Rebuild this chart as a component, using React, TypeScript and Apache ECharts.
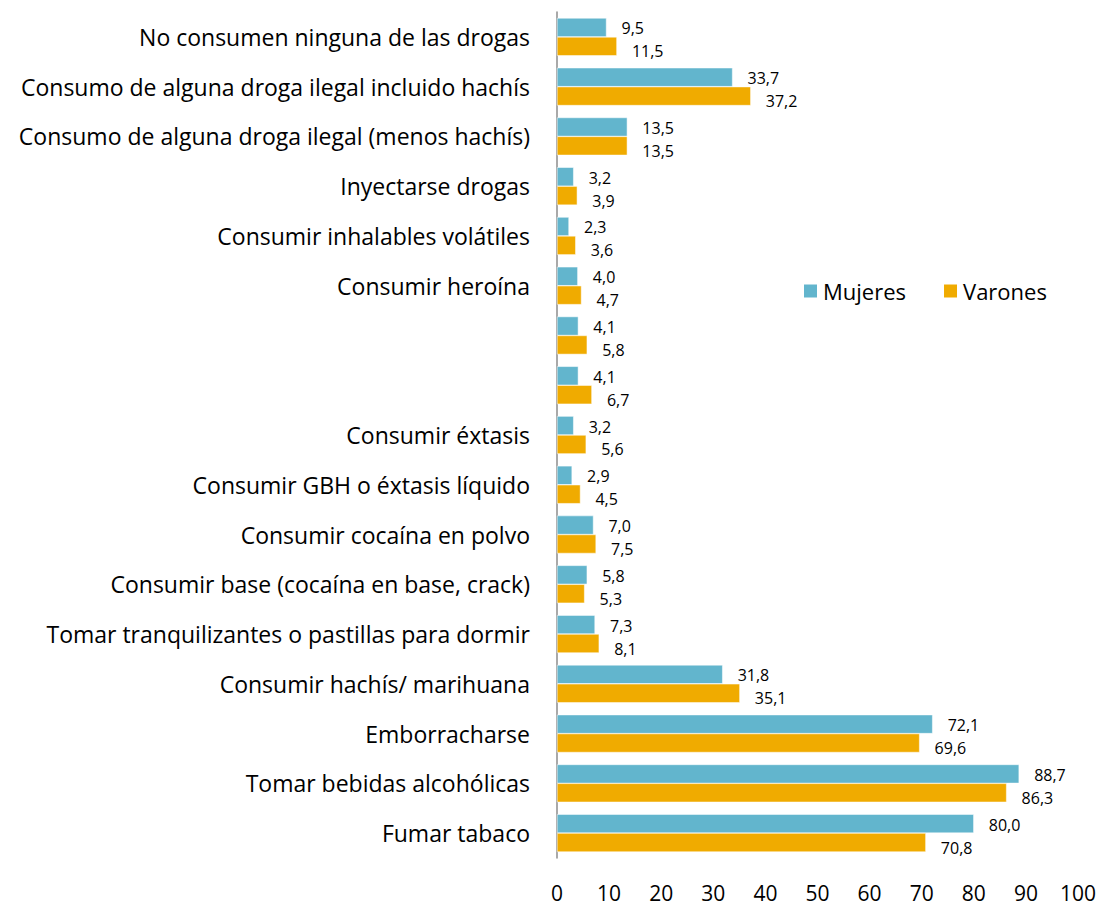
import React, { useEffect, useRef } from "react";
import * as echarts from "echarts";

const categories = [
  "No consumen ninguna de las drogas",
  "Consumo de alguna droga ilegal incluido hachís",
  "Consumo de alguna droga ilegal (menos hachís)",
  "Inyectarse drogas",
  "Consumir inhalables volátiles",
  "Consumir heroína",
  " ",
  "  ",
  "Consumir éxtasis",
  "Consumir GBH o éxtasis líquido",
  "Consumir cocaína en polvo",
  "Consumir base (cocaína en base, crack)",
  "Tomar tranquilizantes o pastillas para dormir",
  "Consumir hachís/ marihuana",
  "Emborracharse",
  "Tomar bebidas alcohólicas",
  "Fumar tabaco",
];
const mujeres = [9.5, 33.7, 13.5, 3.2, 2.3, 4.0, 4.1, 4.1, 3.2, 2.9, 7.0, 5.8, 7.3, 31.8, 72.1, 88.7, 80.0];
const varones = [11.5, 37.2, 13.5, 3.9, 3.6, 4.7, 5.8, 6.7, 5.6, 4.5, 7.5, 5.3, 8.1, 35.1, 69.6, 86.3, 70.8];
const xTicks = { min: 0, max: 100, interval: 10 };

const FONT = "'Open Sans', sans-serif";

export default function App() {
  const ref = useRef<HTMLDivElement>(null);
  useEffect(() => {
    if (!ref.current) return;
    const chart = echarts.init(ref.current, undefined, { renderer: "svg" });
    const fmt = (p: any) => Number(p.value).toFixed(1).replace(".", ",");
    const labelStyle = (dy: number) => ({
      show: true,
      position: "right",
      distance: 15,
      formatter: fmt,
      fontSize: 16,
      lineHeight: 16,
      color: "#000",
      fontFamily: FONT,
      offset: [0, dy],
    });
    chart.setOption({
      animation: false,
      textStyle: { fontFamily: FONT },
      legend: {
        data: ["Mujeres", "Varones"],
        left: 789,
        top: 267,
        itemWidth: 15,
        itemHeight: 15,
        itemGap: 36,
        icon: "rect",
        textStyle: { fontSize: 22, color: "#000", fontFamily: FONT },
      },
      grid: { left: 549, right: 28, top: 4, bottom: 52, containLabel: false },
      xAxis: {
        type: "value",
        min: xTicks.min,
        max: xTicks.max,
        interval: xTicks.interval,
        axisLine: { show: false },
        axisTick: { show: false },
        splitLine: { show: false },
        axisLabel: { fontSize: 21, color: "#000", margin: 24, fontFamily: FONT },
      },
      yAxis: {
        type: "category",
        data: categories,
        inverse: true,
        axisLine: { show: true, lineStyle: { color: "#8c8c8c", width: 1.5 } },
        axisTick: { show: false },
        axisLabel: { fontSize: 23, color: "#000", margin: 27, fontFamily: FONT },
      },
      series: [
        {
          name: "Mujeres",
          type: "bar",
          data: mujeres,
          barGap: "0%",
          barCategoryGap: "24%",
          itemStyle: { color: "#62B5CD", borderColor: "#ffffff", borderWidth: 0.5 },
          label: labelStyle(1),
        },
        {
          name: "Varones",
          type: "bar",
          data: varones,
          itemStyle: { color: "#F0AB00", borderColor: "#ffffff", borderWidth: 0.5 },
          label: labelStyle(5),
        },
      ],
    });
    return () => chart.dispose();
  }, []);
  return <div ref={ref} style={{ width: 1098, height: 902 }} />;
}
